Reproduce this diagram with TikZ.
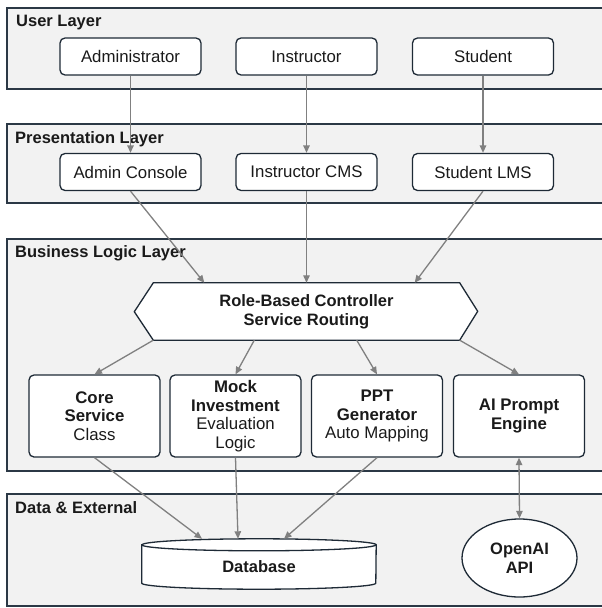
\documentclass[tikz,border=0pt]{standalone}
\usepackage{fontspec}
\setmainfont{Liberation Sans}
\usetikzlibrary{arrows.meta,shapes.geometric}
\definecolor{layerfill}{HTML}{F2F2F2}
\definecolor{layerline}{HTML}{2B3845}
\definecolor{boxline}{HTML}{1E2A36}
\definecolor{arrowgray}{HTML}{808080}
\definecolor{txt}{HTML}{1A1A1A}
\begin{document}
\begin{tikzpicture}[x=1pt,y=-1pt,
  font=\fontsize{16.8}{18.5}\selectfont, text=txt,
  layerbox/.style={draw=layerline, fill=layerfill, line width=1.5pt, anchor=north west, inner sep=0pt, minimum width=612pt},
  layertitle/.style={anchor=west, font=\fontsize{16.5}{18.5}\selectfont\bfseries, inner sep=0pt},
  box/.style={draw=boxline, fill=white, line width=1.3pt, rounded corners=5pt, align=center, inner sep=0pt},
  userbox/.style={box, minimum width=141pt, minimum height=37pt},
  svcbox/.style={box, minimum width=131pt, minimum height=82pt},
  flow/.style={draw=arrowgray, line width=1.3pt, -{Triangle[length=7.5pt,width=6.5pt]}},
  dflow/.style={draw=arrowgray, line width=1.3pt, {Triangle[length=7.5pt,width=6.5pt]}-{Triangle[length=7.5pt,width=6.5pt]}},
  shapeline/.style={draw=boxline, fill=white, line width=1.3pt},
]
\useasboundingbox (0,0) rectangle (602,608);
\clip (0,0) rectangle (602,608);

% layers
\node[layerbox, minimum height=81pt] (userlayer) at (6,7) {};
\node[layerbox, minimum height=79pt] (preslayer) at (6,123) {};
\node[layerbox, minimum height=232pt] (bizlayer) at (6,238) {};
\node[layerbox, minimum height=112pt] (datalayer) at (6,493) {};

\node[layertitle] (t1) at (16,23) {User Layer};
\node[layertitle] (t2) at (15,139) {Presentation Layer};
\node[layertitle] (t3) at (15,253) {Business Logic Layer};
\node[layertitle] (t4) at (15,508) {Data \& External};

% user layer
\node[userbox] (admin) at (130.5,56.5) {Administrator};
\node[userbox] (instr) at (306.5,56.5) {Instructor};
\node[userbox] (stud) at (483,56.5) {Student};

% presentation layer
\node[userbox] (adminc) at (130.5,172) {Admin Console};
\node[userbox] (instrc) at (306.5,172) {Instructor CMS};
\node[userbox] (studl) at (483,172) {Student LMS};

% controller hexagon
\node[minimum width=306pt, minimum height=57pt, inner sep=0pt] (hexc) at (306.5,311.5) {};
\path[shapeline, line join=miter] (hexc.north west) -- (hexc.north east) -- ++(18,28.5) -- (hexc.south east)
  -- (hexc.south west) -- ++(-19,-28.5) -- cycle;
\node[align=center, font=\fontsize{16.5}{19}\selectfont\bfseries] (hext) at (hexc.center) {Role-Based Controller\\Service Routing};

% services
\node[svcbox] (core) at (94.5,416) {\textbf{Core}\\\textbf{Service}\\Class};
\node[svcbox] (mock) at (235.5,416) {\textbf{Mock}\\\textbf{Investment}\\Evaluation\\Logic};
\node[svcbox] (ppt) at (377,416) {\textbf{PPT}\\\textbf{Generator}\\Auto Mapping};
\node[svcbox] (ai) at (519,416) {\textbf{AI Prompt}\\\textbf{Engine}};

% database cylinder
\node[minimum width=234pt, minimum height=50pt, inner sep=0pt] (db) at (259,564) {};
\path[shapeline] ([yshift=-6pt]db.north west) -- ([yshift=6pt]db.south west)
  arc[start angle=180, end angle=360, x radius=117pt, y radius=6pt]
  -- ([yshift=-6pt]db.north east)
  arc[start angle=0, end angle=180, x radius=117pt, y radius=6pt] -- cycle;
\draw[draw=boxline, line width=1.3pt] ([yshift=-6pt]db.north west)
  arc[start angle=180, end angle=360, x radius=117pt, y radius=6pt];
\node[font=\fontsize{16.5}{18.5}\selectfont\bfseries] (dbt) at ([yshift=-3pt]db.center) {Database};

% OpenAI
\node[ellipse, shapeline, minimum width=115pt, minimum height=78pt, inner sep=0pt, align=center,
  font=\fontsize{16.5}{18.5}\selectfont\bfseries] (openai) at (519.5,558) {OpenAI\\API};

% connectors
\draw[flow] (admin) -- (adminc);
\draw[flow] (instr) -- (instrc);
\draw[flow] (stud) -- (studl);

\draw[flow] (adminc.south) -- ([xshift=51pt]hexc.north west);
\draw[flow] (instrc.south) -- (hexc.north);
\draw[flow] (studl.south) -- ([xshift=-45pt]hexc.north east);

\draw[flow] (hexc.south west) -- (core.north);
\draw[flow] ([xshift=101pt]hexc.south west) -- (mock.north);
\draw[flow] ([xshift=-103pt]hexc.south east) -- (ppt.north);
\draw[flow] (hexc.south east) -- (ai.north);

\draw[flow] (core.south) -- ([xshift=-57pt]db.north);
\draw[flow] (mock.south) -- ([xshift=-21pt]db.north);
\draw[flow] (ppt.south) -- ([xshift=25pt]db.north);

\draw[dflow] (ai.south) -- (openai.north);
\end{tikzpicture}
\end{document}
